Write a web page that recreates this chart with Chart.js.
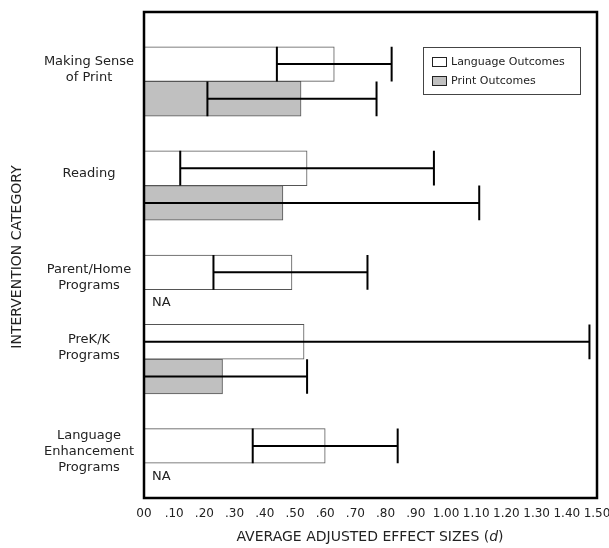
<!DOCTYPE html>
<html>
<head>
<meta charset="utf-8">
<script src="https://cdn.jsdelivr.net/npm/chart.js@4.4.1/dist/chart.umd.min.js"></script>
<style>
  html, body { margin: 0; padding: 0; background: #fff; }
  #wrap { width: 609px; height: 548px; position: relative; }
</style>
</head>
<body>
<div id="wrap"><canvas id="effectChart"></canvas></div>
<script>
// values (effect size d, with 95% interval ends)
const categories = [
  ['Making Sense', 'of Print'],
  ['Reading'],
  ['Parent/Home', 'Programs'],
  ['PreK/K', 'Programs'],
  ['Language', 'Enhancement', 'Programs']
];
const languageMean = [0.63, 0.54, 0.49, 0.53, 0.60];
const languageLow = [0.44, 0.12, 0.23, -0.42, 0.36];
const languageHigh = [0.82, 0.96, 0.74, 1.475, 0.84];
const printMean = [0.52, 0.46, null, 0.26, null];
const printLow = [0.21, -0.19, null, -0.02, null];
const printHigh = [0.77, 1.11, null, 0.54, null];
const xTicks = [0, 0.1, 0.2, 0.3, 0.4, 0.5, 0.6, 0.7, 0.8, 0.9, 1.0, 1.1, 1.2, 1.3, 1.4, 1.5];

// the original leaves an empty row above every group except PreK/K
const gapBefore = [true, true, true, false, true];

const slotLabels = [];
const langData = [];
const printData = [];
const slotCat = [];
categories.forEach((c, i) => {
  if (gapBefore[i]) {
    slotLabels.push('gap' + i); langData.push(null); printData.push(null); slotCat.push(-1);
  }
  slotLabels.push('L' + i); langData.push(languageMean[i]); printData.push(null); slotCat.push(i);
  slotLabels.push('P' + i); langData.push(null); printData.push(printMean[i]); slotCat.push(i);
});

Chart.defaults.font.family = '"DejaVu Sans", sans-serif';
Chart.defaults.color = '#222';

const fmtTick = v => {
  if (Math.abs(v) < 1e-9) return '00';
  return v < 1 ? v.toFixed(2).slice(1) : v.toFixed(2);
};

const extrasPlugin = {
  id: 'extras',
  afterDatasetsDraw(chart) {
    const ctx = chart.ctx;
    const area = chart.chartArea;
    const xs = chart.scales.x;
    const ranges = [[languageLow, languageHigh], [printLow, printHigh]];
    ctx.save();
    ctx.beginPath();
    ctx.rect(area.left, area.top, area.right - area.left, area.bottom - area.top);
    ctx.clip();
    ctx.strokeStyle = '#000';
    ctx.lineWidth = 2;
    ranges.forEach((r, d) => {
      const meta = chart.getDatasetMeta(d);
      meta.data.forEach((bar, j) => {
        const val = chart.data.datasets[d].data[j];
        if (val == null) return;
        const ci = slotCat[j];
        const x1 = xs.getPixelForValue(r[0][ci]);
        const x2 = xs.getPixelForValue(r[1][ci]);
        const h = bar.height / 2;
        ctx.beginPath();
        ctx.moveTo(x1, bar.y); ctx.lineTo(x2, bar.y);
        ctx.moveTo(x1, bar.y - h); ctx.lineTo(x1, bar.y + h);
        ctx.moveTo(x2, bar.y - h); ctx.lineTo(x2, bar.y + h);
        ctx.stroke();
      });
    });
    ctx.restore();

    // NA markers for missing print outcomes
    const ys = chart.scales.y;
    ctx.save();
    ctx.fillStyle = '#222';
    ctx.font = '13px "DejaVu Sans"';
    ctx.textBaseline = 'middle';
    categories.forEach((c, i) => {
      if (printMean[i] != null) return;
      const y = ys.getPixelForValue(slotLabels.indexOf('P' + i));
      ctx.fillText('NA', area.left + 8, y - 4);
    });
    ctx.restore();
  },
  afterDraw(chart) {
    const ctx = chart.ctx;
    const area = chart.chartArea;
    const ys = chart.scales.y;
    ctx.save();
    // frame
    ctx.strokeStyle = '#000';
    ctx.lineWidth = 2.5;
    ctx.strokeRect(area.left, area.top, area.right - area.left, area.bottom - area.top);

    // category labels
    ctx.fillStyle = '#222';
    ctx.font = '13px "DejaVu Sans"';
    ctx.textAlign = 'center';
    ctx.textBaseline = 'middle';
    categories.forEach((lines, i) => {
      const yl = ys.getPixelForValue(slotLabels.indexOf('L' + i));
      const yp = ys.getPixelForValue(slotLabels.indexOf('P' + i));
      const mid = (yl + yp) / 2 - 12;
      const lh = 16;
      lines.forEach((t, k) => {
        ctx.fillText(t, 89, mid + (k - (lines.length - 1) / 2) * lh);
      });
    });

    // axis titles
    ctx.font = '14px "DejaVu Sans"';
    const main = 'AVERAGE ADJUSTED EFFECT SIZES ';
    const it = 'd';
    const wMain = ctx.measureText(main + '(').width;
    ctx.font = 'italic 14px "DejaVu Sans"';
    const wIt = ctx.measureText(it).width;
    ctx.font = '14px "DejaVu Sans"';
    const wEnd = ctx.measureText(')').width;
    let x0 = 370 - (wMain + wIt + wEnd) / 2;
    ctx.textAlign = 'left';
    ctx.fillText(main + '(', x0, 537);
    ctx.font = 'italic 14px "DejaVu Sans"';
    ctx.fillText(it, x0 + wMain, 537);
    ctx.font = '14px "DejaVu Sans"';
    ctx.fillText(')', x0 + wMain + wIt, 537);

    ctx.save();
    ctx.translate(17, 257);
    ctx.rotate(-Math.PI / 2);
    ctx.textAlign = 'center';
    ctx.fillText('INTERVENTION CATEGORY', 0, 0);
    ctx.restore();

    // legend
    const lx = 423, ly = 47, lw = 157, lhgt = 47;
    ctx.fillStyle = '#fff';
    ctx.fillRect(lx, ly, lw, lhgt);
    ctx.strokeStyle = '#444';
    ctx.lineWidth = 1;
    ctx.strokeRect(lx + 0.5, ly + 0.5, lw, lhgt);
    ctx.font = '11px "DejaVu Sans"';
    ctx.textAlign = 'left';
    chart.data.datasets.forEach((ds, k) => {
      const yy = 62 + k * 19;
      ctx.fillStyle = ds.backgroundColor;
      ctx.fillRect(432, yy - 4, 14, 9);
      ctx.strokeStyle = '#222';
      ctx.strokeRect(432.5, yy - 4.5, 14, 9);
      ctx.fillStyle = '#222';
      ctx.fillText(ds.label, 451, yy);
    });
    ctx.restore();
  }
};

new Chart(document.getElementById('effectChart'), {
  type: 'bar',
  data: {
    labels: slotLabels,
    datasets: [
      { label: 'Language Outcomes', data: langData, backgroundColor: '#ffffff', borderColor: '#555', borderWidth: 1 },
      { label: 'Print Outcomes', data: printData, backgroundColor: '#c0c0c0', borderColor: '#555', borderWidth: 1 }
    ]
  },
  options: {
    indexAxis: 'y',
    responsive: true,
    maintainAspectRatio: false,
    animation: false,
    grouped: false,
    barPercentage: 1,
    categoryPercentage: 1,
    layout: { padding: { top: 12, right: 12, left: 0, bottom: 0 } },
    plugins: { legend: { display: false }, tooltip: { enabled: false } },
    scales: {
      x: {
        min: 0, max: 1.5,
        afterBuildTicks: s => { s.ticks = xTicks.map(v => ({ value: v })); },
        afterFit: s => { s.height = 50; s.paddingLeft = 0; s.paddingRight = 0; },
        grid: { display: false, drawTicks: false },
        border: { display: false },
        ticks: { callback: fmtTick, autoSkip: false, maxRotation: 0, padding: 9, font: { size: 12 }, color: '#222' }
      },
      y: {
        afterFit: s => { s.width = 144; s.paddingTop = 0; s.paddingBottom = 0; },
        grid: { display: false, drawTicks: false },
        border: { display: false },
        ticks: { display: false }
      }
    }
  },
  plugins: [extrasPlugin]
});
</script>
</body>
</html>
